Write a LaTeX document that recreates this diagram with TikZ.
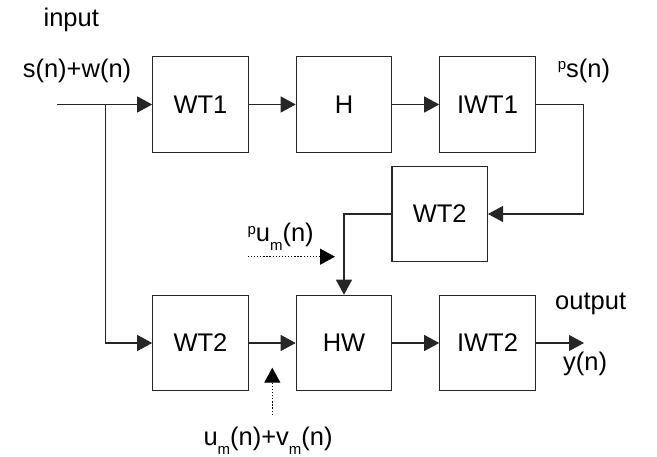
\documentclass[tikz,border=0pt]{standalone}
\usepackage{fontspec}
\setmainfont{Liberation Sans}
\usetikzlibrary{arrows.meta}
\newcommand\mysub[1]{\raisebox{-8.5pt}{\fontsize{15}{15}\selectfont #1}}
\newcommand\mysup[1]{\raisebox{7.5pt}{\fontsize{15}{15}\selectfont #1}}
\begin{document}
\begin{tikzpicture}[x=1pt,y=-1pt,
  blk/.style={draw=black!85, line width=1.1pt, minimum width=95.5pt, minimum height=95.5pt, inner sep=0pt, font=\fontsize{25.5}{30}\selectfont},
  lbl/.style={inner sep=0pt, font=\fontsize{25.5}{30}\selectfont},
  conn/.style={draw=black!85, line width=1.1pt, -{Triangle[length=15pt,width=16pt]}},
  dconn/.style={conn, draw=black, line width=1.3pt, dash pattern=on 1.3pt off 1.8pt}]
\useasboundingbox (0,0) rectangle (657,457);
% blocks
\node[blk] (wt1) at (200.5,104.5) {WT1};
\node[blk] (h) at (344,104.5) {H};
\node[blk] (iwt1) at (487.5,104.5) {IWT1};
\node[blk] (wt2a) at (439.7,214) {WT2};
\node[blk] (wt2b) at (200.5,343) {WT2};
\node[blk] (hw) at (344,343) {HW};
\node[blk] (iwt2) at (487.5,343) {IWT2};
% coordinates
\coordinate (in) at (57.3,104.5);
\coordinate (j) at (105.5,104.5);
\coordinate (fb) at (583.3,104.5);
\coordinate (out) at (584,343);
\coordinate (pus) at (247.7,256.7);
\coordinate (pue) at (335,256.7);
\coordinate (uvs) at (272.3,415);
\coordinate (uve) at (272.3,367.7);
% connectors
\draw[conn] (in) -- (wt1.west);
\draw[conn] (j) |- (wt2b.west);
\draw[conn] (wt1) -- (h);
\draw[conn] (h) -- (iwt1);
\draw[conn] (iwt1.east) -- (fb) |- (wt2a.east);
\draw[conn] (wt2a.west) -| (hw.north);
\draw[conn] (wt2b) -- (hw);
\draw[conn] (hw) -- (iwt2);
\draw[conn] (iwt2.east) -- (out);
\draw[dconn] (pus) -- (pue);
\draw[dconn] (uvs) -- (uve);
% labels
\node[lbl, anchor=base] (tin) at (71.3,26.5) {input};
\node[lbl, anchor=base] (tsw) at (77,77.3) {s(n)+w(n)};
\node[lbl, anchor=base west] (tps) at (557.7,77.3) {\mysup{p}s(n)};
\node[lbl, anchor=base west] (tpu) at (247.3,241.7) {\mysup{p}u\mysub{m}(n)};
\node[lbl, anchor=base west] (tuv) at (203.3,445.7) {u\mysub{m}(n)+v\mysub{m}(n)};
\node[lbl, anchor=base west] (tout) at (555,309.3) {output};
\node[lbl, anchor=base west] (ty) at (563,371) {y(n)};
\end{tikzpicture}
\end{document}
